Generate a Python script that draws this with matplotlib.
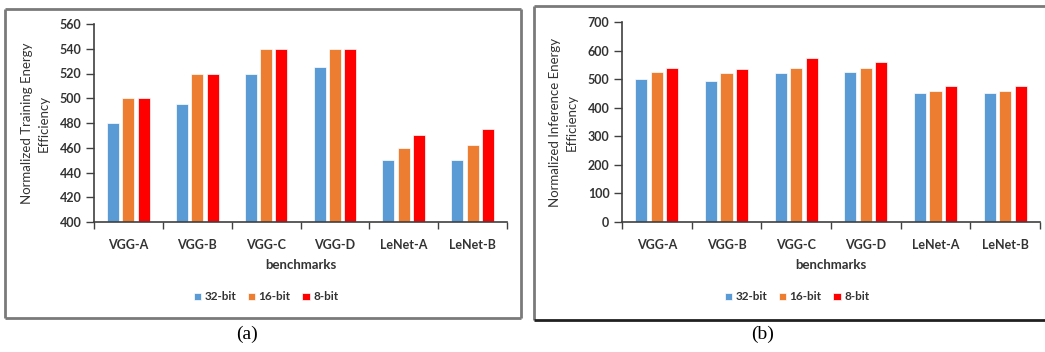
import numpy as np
import matplotlib
matplotlib.use("Agg")
import matplotlib.pyplot as plt
from matplotlib.lines import Line2D

benchmarks = ["VGG-A", "VGG-B", "VGG-C", "VGG-D", "LeNet-A", "LeNet-B"]
series = ["32-bit", "16-bit", "8-bit"]
colors = ["#5B9BD5", "#ED7D31", "#FF0000"]

train_32 = [480, 495, 520, 525, 450, 450]
train_16 = [500, 520, 540, 540, 460, 462]
train_8 = [500, 520, 540, 540, 470, 475]

infer_32 = [500, 495, 520, 525, 450, 450]
infer_16 = [525, 520, 540, 540, 460, 460]
infer_8 = [540, 535, 575, 560, 475, 475]

W, H = 1045, 352
TXT = "#333333"
plt.rcParams["font.family"] = ["Lato", "DejaVu Sans"]
fig = plt.figure(figsize=(W / 100, H / 100), dpi=100)


def px_axes(x0, x1, ytop, ybot):
    return fig.add_axes([x0 / W, 1 - ybot / H, (x1 - x0) / W, (ybot - ytop) / H])


def panel(ax, data, ylim, step, ylabel, legend_x):
    x = np.arange(len(benchmarks))
    off = 0.222
    for i, (vals, c, lab) in enumerate(zip(data, colors, series)):
        ax.bar(x + (i - 1) * off, vals, width=0.175, color=c, label=lab,
               edgecolor="white", linewidth=0.5, zorder=2)
    ax.set_xlim(-0.5, len(benchmarks) - 0.5)
    ax.set_ylim(*ylim)
    ax.set_yticks(np.arange(ylim[0], ylim[1] + 1, step))
    ax.set_xticks(x)
    ax.set_xticklabels(benchmarks, fontsize=9, fontweight="bold", color=TXT)
    ax.set_xticks(np.arange(-0.5, len(benchmarks)), minor=True)
    ax.tick_params(axis="x", which="major", length=0, pad=12)
    ax.tick_params(axis="x", which="minor", length=5, width=1, color="#404040")
    ax.tick_params(axis="y", length=6, width=1, color="#404040", pad=3,
                   labelsize=9, labelcolor=TXT)
    for t in ax.get_yticklabels():
        t.set_fontweight("bold")
    for s in ("top", "right"):
        ax.spines[s].set_visible(False)
    for s in ("left", "bottom"):
        ax.spines[s].set_color("#404040")
        ax.spines[s].set_linewidth(1.2)
    ax.set_xlabel("benchmarks", fontsize=9.5, fontweight="bold", color=TXT, labelpad=6)
    ax.set_ylabel(ylabel, fontsize=9.5, color=TXT, labelpad=7, linespacing=1.45)
    h, l = ax.get_legend_handles_labels()
    fig.legend(h, l, loc="center", bbox_to_anchor=(legend_x / W, 1 - 297 / H), ncol=3,
               frameon=False, handlelength=0.6, handleheight=0.6, handletextpad=0.3,
               columnspacing=1.0, prop={"weight": "bold", "size": 8.5}, labelcolor=TXT)


ax1 = px_axes(94, 507, 24, 222)
panel(ax1, [train_32, train_16, train_8], (400, 560), 20,
      "Normalized Training Energy\nEfficiency", 266)

ax2 = px_axes(622, 1040, 22, 222)
panel(ax2, [infer_32, infer_16, infer_8], (0, 700), 100,
      "Normalized Inference Energy\nEfficiency", 797)

# panel frames
def frame(x0, x1, y0, y1, c="#7a7a7a", bottom_c=None):
    kw = dict(transform=fig.transFigure, lw=2, solid_capstyle="butt")
    xs0, xs1 = x0 / W, x1 / W
    ys0, ys1 = 1 - y0 / H, 1 - y1 / H
    fig.add_artist(Line2D([xs0, xs1], [ys0, ys0], color=c, **kw))
    fig.add_artist(Line2D([xs0, xs0], [ys0, ys1], color=c, **kw))
    fig.add_artist(Line2D([xs1, xs1], [ys0, ys1], color=c, **kw))
    fig.add_artist(Line2D([xs0, xs1], [ys1, ys1], color=bottom_c or c, **kw))

frame(5, 521, 9, 318)
frame(534, 1050, 6, 320, bottom_c="#202020")

fig.text(247 / W, 1 - 334 / H, "(a)", ha="center", va="center",
         family="Liberation Serif", fontsize=14)
fig.text(763 / W, 1 - 334 / H, "(b)", ha="center", va="center",
         family="Liberation Serif", fontsize=14)

fig.savefig("out.png", dpi=100)
